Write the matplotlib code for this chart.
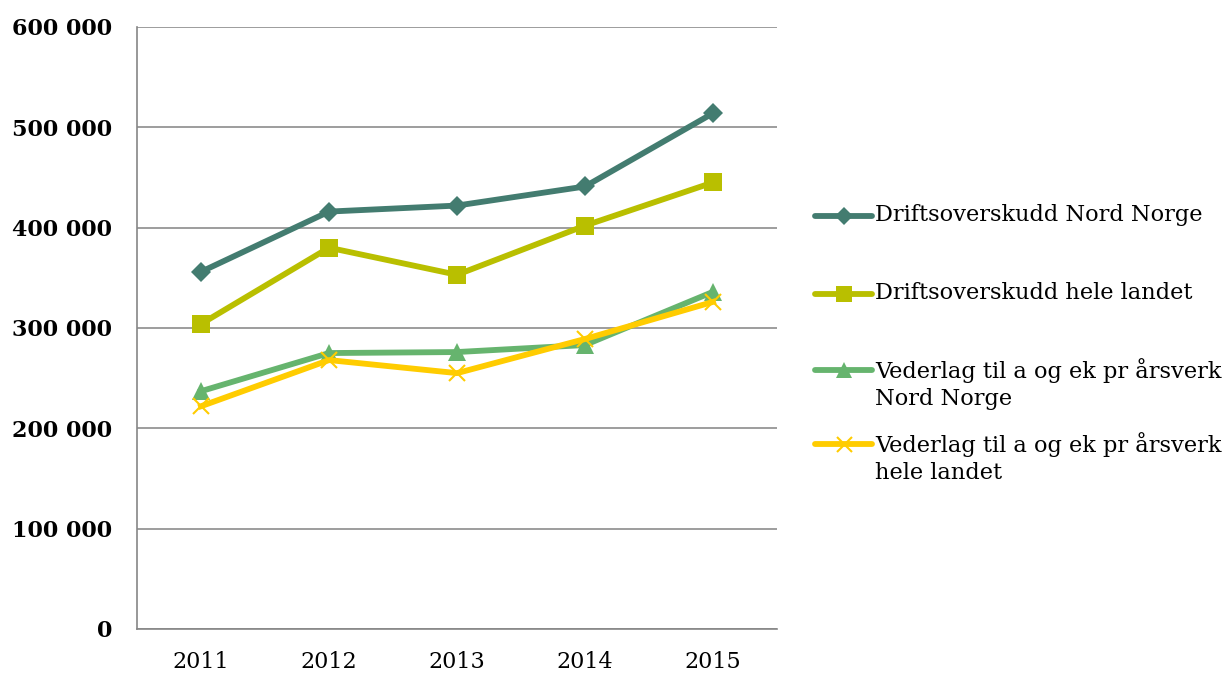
import numpy as np
import matplotlib
matplotlib.use("Agg")
import matplotlib.pyplot as plt
from matplotlib.lines import Line2D
from matplotlib.ticker import FuncFormatter

years = ["2011", "2012", "2013", "2014", "2015"]
drift_nn = [356000, 416000, 422000, 441000, 514000]
drift_hele = [304000, 380000, 353000, 402000, 445000]
veder_nn = [237000, 275000, 276000, 283000, 336000]
veder_hele = [222000, 268000, 255000, 289000, 326000]

labels = ["Driftsoverskudd Nord Norge",
          "Driftsoverskudd hele landet",
          "Vederlag til a og ek pr årsverk\nNord Norge",
          "Vederlag til a og ek pr årsverk\nhele landet"]
series = [drift_nn, drift_hele, veder_nn, veder_hele]
colors = ["#437C70", "#B9BF00", "#66B46E", "#FFCC00"]
markers = ["D", "s", "^", "x"]
msizes = [10.5, 13, 12.5, 12]

plt.rcParams['font.family'] = ['DejaVu Serif']

fig = plt.figure(figsize=(12.28, 6.74), dpi=100)
ax = fig.add_axes([0.1116, 0.0668, 0.5211, 0.8932])

x = np.arange(len(years))
for vals, c, m, ms in zip(series, colors, markers, msizes):
    ax.plot(x, vals, color=c, lw=4.2, marker=m, markersize=ms,
            markeredgewidth=1.5 if m == "x" else 0, markeredgecolor=c,
            solid_joinstyle='round', zorder=3)

ax.set_xlim(-0.5, 4.5)
ax.set_ylim(0, 600000)
ax.set_yticks(np.arange(0, 600001, 100000))
ax.yaxis.set_major_formatter(FuncFormatter(lambda v, p: f"{int(v):,}".replace(",", " ")))
ax.set_xticks(x)
ax.set_xticklabels(years)
ax.grid(axis='y', color='#8C8C8C', lw=1.2)
ax.set_axisbelow(True)
for s in ['top', 'right']:
    ax.spines[s].set_visible(False)
for s in ['left', 'bottom']:
    ax.spines[s].set_color('#868686')
    ax.spines[s].set_linewidth(1.2)
ax.tick_params(axis='both', length=0)
ax.tick_params(axis='y', pad=18, labelsize=16)
ax.tick_params(axis='x', pad=16, labelsize=16)
for t in ax.get_yticklabels():
    t.set_fontweight('bold')

# legend drawn on the figure
leg_y = [216, 294, 370, 444]
for lab, c, m, ms, yy in zip(labels, colors, markers, msizes, leg_y):
    fy = 1 - yy / 674
    fig.add_artist(Line2D([815 / 1228, 872 / 1228], [fy, fy], color=c, lw=4.2,
                          solid_capstyle='round'))
    fig.add_artist(Line2D([843.5 / 1228], [fy], color=c, marker=m, markersize=ms * 0.9,
                          markeredgewidth=1.5 if m == "x" else 0, markeredgecolor=c))
    fig.text(875 / 1228, fy + 0.018, lab, fontsize=16.2, va='top', ha='left',
             linespacing=1.3)

fig.savefig("out.png", dpi=100)
